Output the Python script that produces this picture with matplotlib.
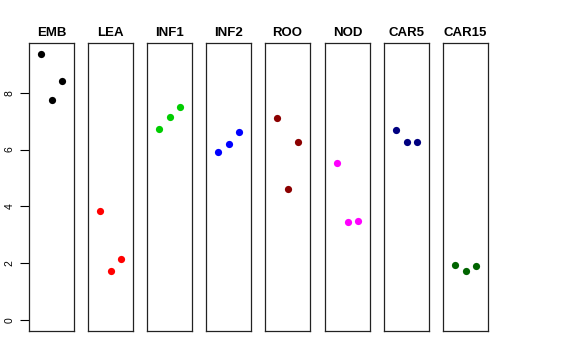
import matplotlib
matplotlib.use("Agg")
import matplotlib.pyplot as plt

plt.rcParams['font.family'] = ['Liberation Sans', 'DejaVu Sans']

groups = ["EMB", "LEA", "INF1", "INF2", "ROO", "NOD", "CAR5", "CAR15"]
colors = ["black", "red", "#00CD00", "blue", "#8B0000", "magenta", "#000080", "#006400"]
emb = [9.37, 7.75, 8.41]
lea = [3.83, 1.72, 2.15]
inf1 = [6.73, 7.14, 7.49]
inf2 = [5.90, 6.18, 6.63]
roo = [7.10, 4.60, 6.28]
nod = [5.53, 3.47, 3.49]
car5 = [6.70, 6.26, 6.26]
car15 = [1.94, 1.72, 1.91]
values = [emb, lea, inf1, inf2, roo, nod, car5, car15]
reps = [1, 2, 3]
yticks = [0, 2, 4, 6, 8]

W, H = 576, 360
fig = plt.figure(figsize=(W / 100, H / 100), dpi=100)
lefts = [29, 88, 147, 206, 265, 325, 384, 443]
pw = 45
top, bottom = 43, 331
ymax = max(max(v) for v in values)
pad = 0.04 * ymax
for i, (g, c, v) in enumerate(zip(groups, colors, values)):
    ax = fig.add_axes([lefts[i] / W, 1 - bottom / H, pw / W, (bottom - top) / H])
    ax.plot(reps, v, 'o', color=c, ms=5.2, mew=0)
    ax.set_xlim(-0.15, 4.15)
    ax.set_ylim(-pad, ymax + pad)
    ax.set_xticks([])
    ax.set_title(g, fontsize=9.5, fontweight='bold', pad=5)
    for s in ax.spines.values():
        s.set_linewidth(0.9)
        s.set_color('#222222')
    if i == 0:
        ax.set_yticks(yticks)
        ax.set_yticklabels([str(t) for t in yticks], rotation=90, va='center', fontsize=7.5)
        ax.tick_params(axis='y', length=6.5, width=0.8, pad=4)
    else:
        ax.set_yticks([])

fig.savefig("out.png", dpi=100)
